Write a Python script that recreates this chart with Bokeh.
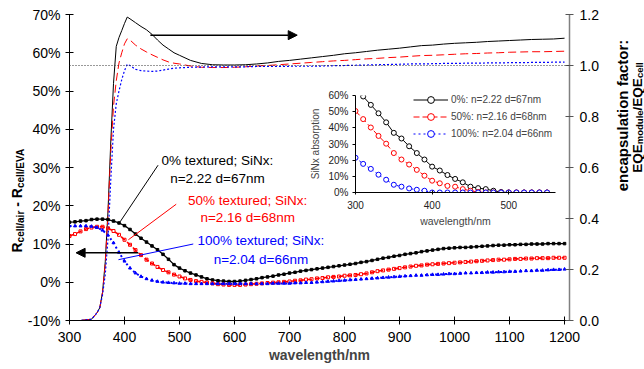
import numpy as np
from bokeh.plotting import figure
from bokeh.models import (Range1d, LinearAxis, FixedTicker, NumeralTickFormatter,
                          Label, Arrow, NormalHead, Span, Legend, LegendItem)
from bokeh.embed import file_html
from bokeh.resources import INLINE

FONT = "Liberation Sans"

# ---------------- data ----------------
wavelength = list(range(300, 1201, 10))
refl_black = [15.7, 15.8, 16.0, 16.1, 16.4, 16.5, 16.5, 16.4, 16.0, 15.5,
              14.8, 13.8, 12.6, 11.5, 10.5, 9.5, 8.5, 7.3, 6.0, 4.6,
              3.7, 3.0, 2.4, 1.9, 1.4, 0.9, 0.6, 0.4, 0.3, 0.2,
              0.2, 0.3, 0.5, 0.7, 0.9, 1.2, 1.4, 1.6, 1.9, 2.1,
              2.4, 2.6, 2.9, 3.1, 3.3, 3.5, 3.7, 3.9, 4.1, 4.3,
              4.5, 4.7, 4.9, 5.2, 5.4, 5.7, 6.0, 6.3, 6.5, 6.8,
              7.0, 7.3, 7.5, 7.7, 8.0, 8.2, 8.4, 8.6, 8.8, 8.9,
              9.0, 9.1, 9.1, 9.2, 9.3, 9.4, 9.5, 9.6, 9.7, 9.7,
              9.8, 9.8, 9.9, 9.9, 10.0, 10.0, 10.0, 10.1, 10.1, 10.1,
              10.1]
refl_red = [12.1, 12.6, 13.3, 13.9, 14.3, 14.5, 14.5, 14.1, 13.4, 12.4,
            11.1, 9.8, 8.4, 7.1, 5.9, 4.9, 4.0, 3.2, 2.6, 2.0,
            1.5, 1.0, 0.6, 0.3, 0.1, -0.1, -0.3, -0.5, -0.6, -0.7,
            -0.7, -0.7, -0.6, -0.5, -0.4, -0.3, -0.2, -0.1, 0.0, 0.1,
            0.2, 0.4, 0.5, 0.7, 0.8, 1.0, 1.1, 1.3, 1.4, 1.5,
            1.7, 1.8, 1.9, 2.1, 2.3, 2.6, 2.9, 3.1, 3.3, 3.5,
            3.7, 3.9, 4.1, 4.3, 4.4, 4.6, 4.7, 4.8, 4.9, 5.0,
            5.1, 5.2, 5.3, 5.4, 5.5, 5.6, 5.7, 5.8, 5.9, 5.9,
            6.0, 6.1, 6.1, 6.2, 6.2, 6.3, 6.3, 6.3, 6.4, 6.4,
            6.4]
refl_blue = [14.7, 14.7, 14.7, 14.7, 14.6, 14.3, 13.6, 12.3, 10.3, 7.8,
             5.5, 3.7, 2.4, 1.5, 0.9, 0.5, 0.2, 0.0, -0.1, -0.2,
             -0.3, -0.3, -0.4, -0.4, -0.4, -0.4, -0.4, -0.4, -0.4, -0.4,
             -0.4, -0.4, -0.4, -0.4, -0.4, -0.4, -0.4, -0.3, -0.3, -0.3,
             -0.3, -0.2, -0.2, -0.1, -0.1, 0.0, 0.1, 0.2, 0.3, 0.4,
             0.5, 0.6, 0.7, 0.8, 0.9, 1.0, 1.1, 1.2, 1.3, 1.4,
             1.5, 1.6, 1.7, 1.8, 1.8, 1.9, 2.0, 2.0, 2.1, 2.2,
             2.2, 2.3, 2.4, 2.4, 2.5, 2.5, 2.6, 2.6, 2.7, 2.7,
             2.8, 2.8, 2.9, 3.0, 3.0, 3.1, 3.1, 3.2, 3.3, 3.3,
             3.4]

enc_wavelength = [300, 320, 340, 350, 355, 360, 365, 370, 375, 380,
                  385, 390, 395, 400, 405, 410, 420, 430,
                  440, 450, 460, 470, 480, 490, 500,
                  520, 540, 560, 580, 600, 620, 640, 660, 680, 700,
                  720, 740, 760, 780, 800, 820, 840, 860, 880, 900,
                  920, 940, 960, 980, 1000, 1020, 1040, 1060, 1080, 1100,
                  1120, 1140, 1160, 1180, 1200]
enc_black = [0.0, 0.0, 0.005, 0.03, 0.05, 0.11, 0.23, 0.43, 0.70, 0.93,
             1.075, 1.11, 1.137, 1.165, 1.19, 1.183, 1.168, 1.153,
             1.14, 1.122, 1.10, 1.08, 1.065, 1.05, 1.04,
             1.02, 1.008, 1.003, 1.002, 1.002, 1.003, 1.006, 1.01, 1.016, 1.02,
             1.025, 1.03, 1.035, 1.04, 1.046, 1.05, 1.055, 1.06, 1.064, 1.068,
             1.073, 1.078, 1.08, 1.084, 1.087, 1.089, 1.091, 1.094, 1.096, 1.098,
             1.10, 1.102, 1.103, 1.104, 1.107]
enc_red = [0.0, 0.0, 0.005, 0.03, 0.05, 0.11, 0.22, 0.42, 0.66, 0.84,
           0.94, 1.01, 1.05, 1.085, 1.105, 1.10, 1.08, 1.065,
           1.053, 1.042, 1.032, 1.022, 1.014, 1.009, 1.006,
           0.998, 0.993, 0.992, 0.992, 0.993, 0.995, 0.998, 1.0, 1.003, 1.006,
           1.009, 1.012, 1.015, 1.018, 1.02, 1.023, 1.026, 1.028, 1.031, 1.033,
           1.036, 1.039, 1.04, 1.042, 1.044, 1.046, 1.047, 1.049, 1.05, 1.052,
           1.053, 1.054, 1.054, 1.055, 1.056]
enc_blue = [0.0, 0.0, 0.005, 0.03, 0.05, 0.10, 0.18, 0.32, 0.55, 0.75,
            0.85, 0.90, 0.945, 0.98, 1.005, 1.0, 0.985, 0.98,
            0.978, 0.977, 0.978, 0.982, 0.986, 0.989, 0.991,
            0.993, 0.994, 0.995, 0.995, 0.995, 0.995, 0.996, 0.996, 0.996, 0.997,
            0.997, 0.997, 0.998, 0.999, 1.0, 1.001, 1.002, 1.003, 1.004, 1.005,
            1.006, 1.006, 1.007, 1.008, 1.008, 1.009, 1.009, 1.01, 1.01, 1.011,
            1.011, 1.012, 1.012, 1.013, 1.013]

inset_wavelength = list(range(300, 551, 10))
abs_black = [64.0, 59.4, 54.2, 49.0, 43.4, 36.9, 33.4, 28.6, 24.4, 20.4,
             16.0, 13.6, 10.8, 8.4, 6.3, 3.6, 2.7, 2.1, 1.1, 0.3,
             0.0, 0.0, 0.0, 0.0, 0.0, 0.0]
abs_red = [50.4, 45.4, 40.2, 35.0, 30.2, 24.4, 20.4, 17.3, 14.0, 10.4,
           7.3, 5.7, 4.1, 3.6, 2.1, 1.1, 0.3, 0.0, 0.0, 0.0,
           0.0, 0.0, 0.0, 0.0, 0.0, 0.0]
abs_blue = [21.5, 17.7, 14.6, 11.0, 7.9, 4.8, 3.6, 2.5, 1.7, 1.1,
            0.0, 0.0, 0.0, 0.0, 0.0, 0.0, 0.0, 0.0, 0.0, 0.0,
            0.0, 0.0, 0.0, 0.0, 0.0, 0.0]

x_ticks = list(range(300, 1201, 100))
left_ticks = [-0.1, 0.0, 0.1, 0.2, 0.3, 0.4, 0.5, 0.6, 0.7]
right_ticks = [0.0, 0.2, 0.4, 0.6, 0.8, 1.0, 1.2]
inset_x_ticks = [300, 400, 500]
inset_y_ticks = [0.0, 0.1, 0.2, 0.3, 0.4, 0.5, 0.6]
legend_labels = ["0%: n=2.22 d=67nm", "50%: n=2.16 d=68nm", "100%: n=2.04 d=66nm"]
annot_lines = [("0% textured; SiNx:", "n=2.22 d=67nm"),
               ("50% textured; SiNx:", "n=2.16 d=68nm"),
               ("100% textured; SiNx:", "n=2.04 d=66nm")]
colors = ["black", "red", "blue"]

W, H = 644, 369

# ---------------- main figure ----------------
p = figure(width=W, height=H, x_range=Range1d(300, 1209), y_range=Range1d(-0.1, 0.7),
           output_backend="svg", toolbar_location=None,
           min_border_left=69, min_border_right=75, min_border_top=14, min_border_bottom=49)
p.extra_y_ranges = {"enc": Range1d(0, 1.2)}
p.outline_line_color = None
p.xgrid.visible = False
p.ygrid.visible = False


def style_axis(ax, size="14px"):
    ax.major_label_text_font = FONT
    ax.major_label_text_font_size = size
    ax.major_label_text_color = "black"
    ax.minor_tick_line_color = None
    ax.major_tick_in = 4
    ax.major_tick_out = 4
    ax.axis_line_color = "black"
    ax.major_tick_line_color = "black"


xa = p.xaxis[0]
xa.ticker = FixedTicker(ticks=x_ticks)
style_axis(xa)
xa.major_label_standoff = 7
xa.axis_label = "wavelength/nm"
xa.axis_label_text_font = FONT
xa.axis_label_text_font_size = "14px"
xa.axis_label_text_font_style = "bold"
xa.axis_label_standoff = 2

ya = p.yaxis[0]
ya.ticker = FixedTicker(ticks=left_ticks)
ya.formatter = NumeralTickFormatter(format="0%")
style_axis(ya)
ya.major_label_standoff = 5

ra = LinearAxis(y_range_name="enc", ticker=FixedTicker(ticks=right_ticks),
                formatter=NumeralTickFormatter(format="0.0"))
style_axis(ra)
ra.axis_line_color = "#808080"
ra.axis_line_width = 1.5
ra.major_tick_line_color = "#555555"
ra.major_label_standoff = 6
p.add_layout(ra, "right")

# reference line at factor 1.0
p.add_layout(Span(location=1.0, dimension="width", y_range_name="enc",
                  line_color="#333333", line_dash="1 2", line_width=1))

# encapsulation factor curves (right axis)
p.line(enc_wavelength, enc_black, color="black", line_width=1, y_range_name="enc")
p.line(enc_wavelength, enc_red, color="red", line_width=1, line_dash="8 4", y_range_name="enc")
p.line(enc_wavelength, enc_blue, color="blue", line_width=1.2, line_dash="2 2", y_range_name="enc")

# reflectance difference curves (left axis)
rb = np.array(refl_black) / 100
rr = np.array(refl_red) / 100
rbl = np.array(refl_blue) / 100
p.line(wavelength, rb, color="black", line_width=1.3)
p.scatter(wavelength, rb, marker="square", size=2.5, color="black")
p.line(wavelength, rr, color="red", line_width=1.6, line_dash="5 3")
p.scatter(wavelength, rr, marker="square", size=3, line_color="red", fill_color=None, line_width=1)
p.line(wavelength, rbl, color="blue", line_width=2, line_dash="2 3")
p.scatter(wavelength, rbl, marker="triangle", size=3, color="blue")

# arrows
arrow_left = dict(x_start=425, x_end=312, y=0.077)
arrow_right = dict(x_start=447, x_end=714, y=0.646)
for a in (arrow_left, arrow_right):
    p.add_layout(Arrow(end=NormalHead(size=9, fill_color="black", line_color="black"),
                       x_start=a["x_start"], y_start=a["y"], x_end=a["x_end"], y_end=a["y"],
                       line_color="black", line_width=1.5))

# annotation texts and leader lines
annot_x = [569, 624, 648]
annot_y1 = [0.319, 0.215, 0.108]
annot_y2 = [0.272, 0.168, 0.059]
leader_x0 = [461, 494, 525]
leader_y0 = [0.306, 0.204, 0.100]
leader_x1 = [392, 407, 389]
leader_y1 = [0.158, 0.111, 0.059]
p.segment(leader_x0, leader_y0, leader_x1, leader_y1, color=colors, line_width=1)
for i in range(3):
    for txt, yy in ((annot_lines[i][0], annot_y1[i]), (annot_lines[i][1], annot_y2[i])):
        p.add_layout(Label(x=annot_x[i], y=yy, text=txt, text_align="center",
                           text_baseline="middle", text_font=FONT, text_font_size="13.5px",
                           text_color=colors[i]))

# ---------------- inset ----------------
IW, IH = 266, 152
ins = figure(width=IW, height=IH, x_range=Range1d(300, 561), y_range=Range1d(0, 0.6),
             output_backend="svg", toolbar_location=None,
             min_border_left=55, min_border_right=11, min_border_top=15, min_border_bottom=40)
ins.background_fill_color = None
ins.border_fill_color = None
ins.outline_line_color = None
ins.xgrid.visible = False
ins.ygrid.visible = False

ixa = ins.xaxis[0]
ixa.ticker = FixedTicker(ticks=inset_x_ticks)
ixa.major_label_text_font = FONT
ixa.major_label_text_font_size = "10px"
ixa.major_label_text_color = "#222222"
ixa.minor_tick_line_color = None
ixa.major_tick_in = 2
ixa.major_tick_out = 2
ixa.major_label_standoff = 6
ixa.axis_label = "wavelength/nm"
ixa.axis_label_text_font = FONT
ixa.axis_label_text_font_size = "10.5px"
ixa.axis_label_text_font_style = "normal"
ixa.axis_label_standoff = 3

iya = ins.yaxis[0]
iya.ticker = FixedTicker(ticks=inset_y_ticks)
iya.formatter = NumeralTickFormatter(format="0%")
iya.major_label_text_font = FONT
iya.major_label_text_font_size = "10px"
iya.major_label_text_color = "#222222"
iya.minor_tick_line_color = None
iya.major_tick_in = 0
iya.major_tick_out = 3
iya.major_label_standoff = 4
iya.axis_label = "SiNx absorption"
iya.axis_label_text_font = FONT
iya.axis_label_text_font_size = "10px"
iya.axis_label_text_font_style = "normal"
iya.axis_label_standoff = 4

iabs = [np.array(abs_black) / 100, np.array(abs_red) / 100, np.array(abs_blue) / 100]
dashes = ["solid", "6 3", "2 3"]
items = []
for i in range(3):
    ln = ins.line(inset_wavelength, iabs[i], color=colors[i], line_width=1, line_dash=dashes[i])
    sc = ins.scatter(inset_wavelength, iabs[i], marker="circle", size=5, line_color=colors[i],
                     fill_color="white", line_width=1)
    items.append(LegendItem(label=legend_labels[i], renderers=[ln, sc]))

leg = Legend(items=items, location=(58, 50), background_fill_alpha=0, border_line_alpha=0,
             padding=0, margin=0, spacing=0, label_height=17, glyph_height=17, glyph_width=35,
             label_standoff=3, label_text_font=FONT, label_text_font_size="10px")
ins.add_layout(leg)
ins.styles = {"position": "absolute", "left": "300px", "top": "80px",
              "width": f"{IW}px", "height": f"{IH}px"}

# ---------------- overlay for rotated axis titles (pixel coordinates) ----------------
ov = figure(width=W, height=H, x_range=Range1d(0, W), y_range=Range1d(H, 0),
            output_backend="svg", toolbar_location=None,
            min_border=0, min_border_left=0, min_border_right=0,
            min_border_top=0, min_border_bottom=0)
ov.axis.visible = False
ov.grid.visible = False
ov.outline_line_color = None
ov.background_fill_color = None
ov.border_fill_color = None
ang = np.pi / 2
# left title: R_cell/air - R_cell/EVA
left_parts = [("R", 252.0, "14px", 16.5), ("cell/air", 241.9, "10px", 19.5),
              ("- R", 206.3, "14px", 16.5), ("cell/EVA", 187.6, "10px", 19.5)]
for txt, yy, sz, xx in left_parts:
    ov.add_layout(Label(x=xx, y=yy, text=txt, angle=ang, text_align="left",
                        text_baseline="alphabetic", text_font=FONT, text_font_size=sz,
                        text_font_style="bold", text_color="black"))
# right title: encapsulation factor: EQE_module/EQE_cell
ov.add_layout(Label(x=621.5, y=115, text="encapsulation factor:", angle=ang,
                    text_align="center", text_baseline="alphabetic", text_font=FONT,
                    text_font_size="15px", text_font_style="bold", text_color="black"))
right_parts = [("EQE", 172.2, "13.5px", 637.0), ("module", 143.7, "9.5px", 639.0),
               ("/EQE", 109.9, "13.5px", 637.0), ("cell", 77.6, "9.5px", 639.0)]
for txt, yy, sz, xx in right_parts:
    ov.add_layout(Label(x=xx, y=yy, text=txt, angle=ang, text_align="left",
                        text_baseline="alphabetic", text_font=FONT, text_font_size=sz,
                        text_font_style="bold", text_color="black"))
ov.styles = {"position": "absolute", "left": "0px", "top": "0px",
             "width": f"{W}px", "height": f"{H}px", "pointer-events": "none"}

open("out.html", "w").write(file_html([p, ins, ov], INLINE))
